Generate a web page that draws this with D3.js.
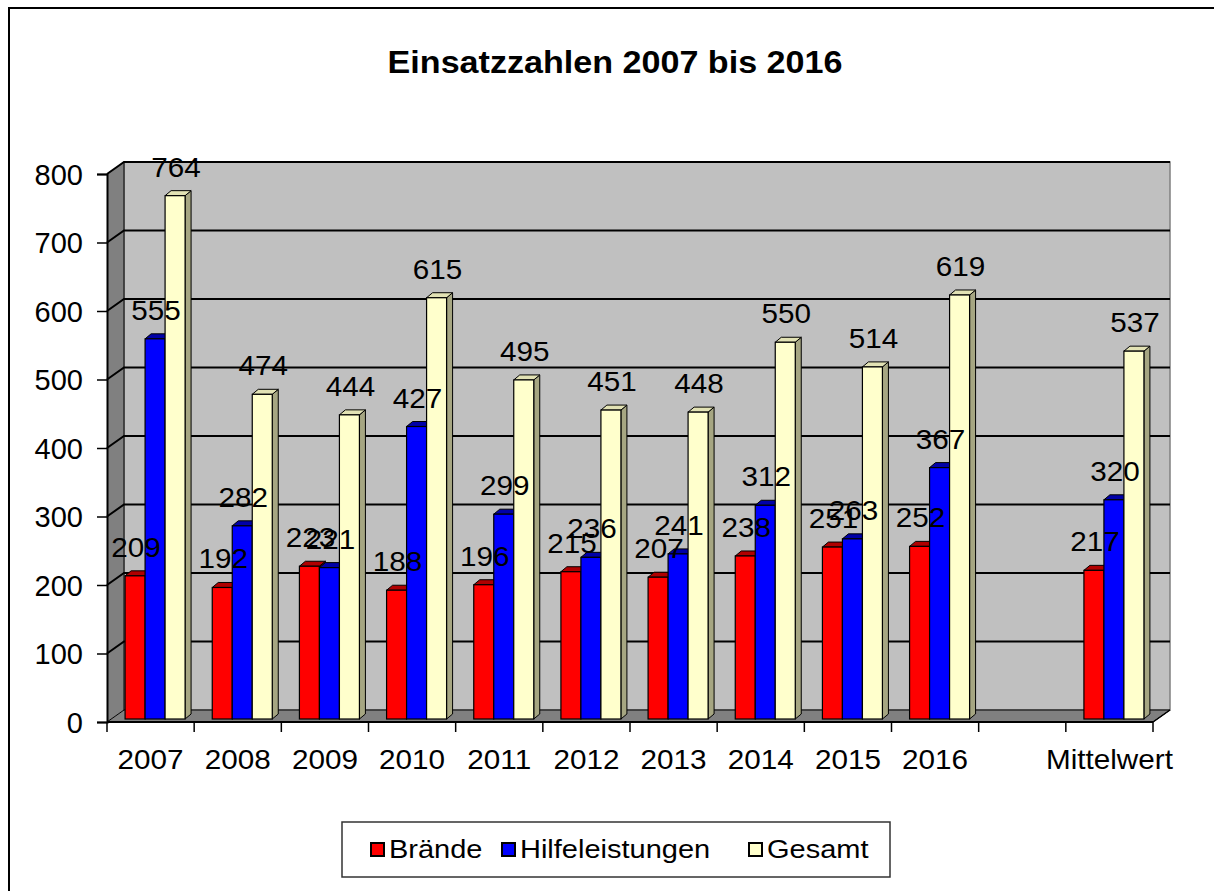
<!DOCTYPE html>
<html><head><meta charset="utf-8">
<script src="https://cdn.jsdelivr.net/npm/d3@7"></script>
<style>body{margin:0;background:#fff}svg{display:block}text{font-family:Arial,"Liberation Sans",sans-serif}</style>
</head><body>
<svg id="c" width="1214" height="891"></svg>
<script>
const title = "Einsatzzahlen 2007 bis 2016";
const categories = ["2007","2008","2009","2010","2011","2012","2013","2014","2015","2016","","Mittelwert"];
const brande = [209,192,223,188,196,215,207,238,251,252,null,217];
const hilfe  = [555,282,221,427,299,236,241,312,263,367,null,320];
const gesamt = [764,474,444,615,495,451,448,550,514,619,null,537];
const seriesNames = ["Brände","Hilfeleistungen","Gesamt"];
const yTicks = [0,100,200,300,400,500,600,700,800];

const svg = d3.select("#c");
const X0=107, X1=1153, Y0=722, Y800=174, DX=17, DY=-12;
const BX=4.5, BY=-3, TX=6, TY=-5, BW=20;
const x = d3.scaleBand().domain(categories.map((c,i)=>i)).range([X0,X1]);
const y = d3.scaleLinear().domain([0,800]).range([Y0,Y800]);
const sub = d3.scaleBand().domain([0,1,2]).range([0,BW*3]);

const fronts=["#FF0000","#0000FF","#FFFFCC"];
const tops=["#B00000","#0000A8","#E2E2B4"];
const sides=["#800000","#000080","#A6A682"];

// stretched text helper
function stext(g, px, py, str, size, sx, anchor, weight){
  return g.append("text").attr("transform",`translate(${px},${py}) scale(${sx},1)`)
    .attr("text-anchor",anchor||"start").attr("font-size",size)
    .attr("font-weight",weight||"normal").text(str);
}

// frame
svg.append("rect").attr("x",9).attr("y",8).attr("width",1240).attr("height",900)
  .attr("fill","#fff").attr("stroke","#000").attr("stroke-width",2);

stext(svg, 615, 73, title, 31, 1.1, "middle", "bold");

// walls
const pts = a=>a.map(p=>p.join(",")).join(" ");
svg.append("polygon").attr("points",pts([[X0+DX,y(800)+DY],[X1+DX,y(800)+DY],[X1+DX,Y0+DY],[X0+DX,Y0+DY]]))
  .attr("fill","#C0C0C0").attr("stroke","#808080").attr("stroke-width",1.5);
svg.append("polygon").attr("points",pts([[X0,y(800)],[X0+DX,y(800)+DY],[X0+DX,Y0+DY],[X0,Y0]]))
  .attr("fill","#808080");
svg.append("polygon").attr("points",pts([[X0,Y0],[X1,Y0],[X1+DX,Y0+DY],[X0+DX,Y0+DY]]))
  .attr("fill","#808080").attr("stroke","#000").attr("stroke-width",1);
// gridlines
yTicks.filter(t=>t>0).forEach(t=>{
  svg.append("polyline").attr("points",pts([[X0,y(t)],[X0+DX,y(t)+DY],[X1+DX,y(t)+DY]]))
    .attr("fill","none").attr("stroke","#000").attr("stroke-width",2);
});
svg.append("line").attr("x1",X0+DX).attr("x2",X0+DX).attr("y1",y(800)+DY).attr("y2",Y0+DY).attr("stroke","#000").attr("stroke-width",1);

// axes
const ya = svg.append("g").attr("transform",`translate(${X0},0)`)
  .call(d3.axisLeft(y).tickValues(yTicks).tickSize(10).tickPadding(14));
ya.select(".domain").attr("stroke","#000").attr("stroke-width",2);
ya.selectAll(".tick line").attr("stroke","#000").attr("stroke-width",1.5);
ya.selectAll("text").attr("font-size",29).attr("fill","#000").attr("font-family","Arial,'Liberation Sans',sans-serif").attr("dy","0.36em");

svg.append("line").attr("x1",X0).attr("x2",X1).attr("y1",Y0).attr("y2",Y0).attr("stroke","#000").attr("stroke-width",2);
svg.append("line").attr("x1",X1).attr("x2",X1+DX).attr("y1",Y0).attr("y2",Y0+DY).attr("stroke","#000").attr("stroke-width",1.5);
categories.forEach((c,i)=>{
  svg.append("line").attr("x1",x(i)+x.bandwidth()).attr("x2",x(i)+x.bandwidth()).attr("y1",Y0).attr("y2",Y0+10).attr("stroke","#000").attr("stroke-width",1.5);
  stext(svg, x(i)+x.bandwidth()/2, 769, c, 28, 1.06, "middle");
});
svg.append("line").attr("x1",X0).attr("x2",X0).attr("y1",Y0).attr("y2",Y0+10).attr("stroke","#000").attr("stroke-width",1.5);

// bars
const data=[brande,hilfe,gesamt];
const gB = svg.append("g");
categories.forEach((c,i)=>{
  const left = x(i)+(x.bandwidth()-BW*3)/2+BX;
  data.forEach((arr,s)=>{
    const v=arr[i]; if(v==null) return;
    const bx=left+sub(s), yt=y(v)+BY, yb=Y0+BY;
    gB.append("polygon").attr("points",pts([[bx+BW,yt],[bx+BW+TX,yt+TY],[bx+BW+TX,yb+TY],[bx+BW,yb]]))
      .attr("fill",sides[s]).attr("stroke","#000").attr("stroke-width",1);
    gB.append("polygon").attr("points",pts([[bx,yt],[bx+BW,yt],[bx+BW+TX,yt+TY],[bx+TX,yt+TY]]))
      .attr("fill",tops[s]).attr("stroke","#000").attr("stroke-width",1);
    gB.append("rect").attr("x",bx).attr("y",yt).attr("width",BW).attr("height",yb-yt)
      .attr("fill",fronts[s]).attr("stroke","#000").attr("stroke-width",1.2);
  });
});
// labels
categories.forEach((c,i)=>{
  const left = x(i)+(x.bandwidth()-BW*3)/2+BX;
  data.forEach((arr,s)=>{
    const v=arr[i]; if(v==null) return;
    stext(svg, left+sub(s)+BW/2+1, y(v)+BY-19, v, 28, 1.06, "middle");
  });
});

// legend
svg.append("rect").attr("x",342).attr("y",822).attr("width",548).attr("height",55)
  .attr("fill","#fff").attr("stroke","#333").attr("stroke-width",1.5);
const lx=[371,502,749];
seriesNames.forEach((n,s)=>{
  svg.append("rect").attr("x",lx[s]).attr("y",843).attr("width",13).attr("height",13)
    .attr("fill",fronts[s]).attr("stroke","#000").attr("stroke-width",2);
  stext(svg, lx[s]+18, 858, n, 25, 1.16, "start");
});
</script>
</body></html>
